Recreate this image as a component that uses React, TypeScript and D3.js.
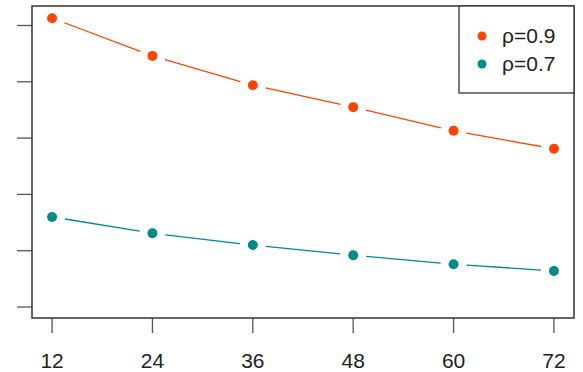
import React, { useEffect, useRef } from 'react';
import * as d3 from 'd3';

const months = [12, 24, 36, 48, 60, 72];
const rho09 = [5.13, 4.46, 3.94, 3.55, 3.13, 2.81];
const rho07 = [1.6, 1.31, 1.1, 0.92, 0.76, 0.64];
const yTicks = [0, 1, 2, 3, 4, 5];
const seriesNames = ['ρ=0.9', 'ρ=0.7'];
const seriesColors = ['#ff4500', '#008b8b'];

const App = () => {
  const svgRef = useRef<SVGSVGElement>(null);

  useEffect(() => {
    const svg = d3.select(svgRef.current);
    const width = 583;
    const height = 372;
    const box = { left: 32, right: 574, top: 6, bottom: 318 };
    const font = 'Liberation Sans, Arial, sans-serif';

    const x = d3.scaleLinear().domain([9.6, 74.4]).range([box.left, box.right]);
    const y = d3.scaleLinear().domain([-0.195, 5.346]).range([box.bottom, box.top]);

    svg.attr('width', width).attr('height', height);

    // y axis: ticks only, no labels
    svg
      .append('g')
      .selectAll('line')
      .data(yTicks)
      .enter()
      .append('line')
      .attr('x1', box.left - 15)
      .attr('x2', box.left)
      .attr('y1', (d) => y(d))
      .attr('y2', (d) => y(d))
      .attr('stroke', '#555')
      .attr('stroke-width', 1.3);

    // x axis
    const xa = svg.append('g');
    xa.selectAll('line')
      .data(months)
      .enter()
      .append('line')
      .attr('x1', (d) => x(d))
      .attr('x2', (d) => x(d))
      .attr('y1', box.bottom)
      .attr('y2', box.bottom + 15)
      .attr('stroke', '#555')
      .attr('stroke-width', 1.3);
    xa.selectAll('text')
      .data(months)
      .enter()
      .append('text')
      .attr('x', (d) => x(d))
      .attr('y', 368)
      .attr('text-anchor', 'middle')
      .attr('font-family', font)
      .attr('font-size', 21)
      .attr('fill', '#222')
      .text((d) => d);

    // series: segments with gaps around points (type "b")
    const gap = 13;
    [rho09, rho07].forEach((vals, i) => {
      const pts = months.map((m, j) => [x(m), y(vals[j])]);
      const g = svg.append('g');
      d3.pairs(pts).forEach(([a, b]) => {
        const dx = b[0] - a[0];
        const dy = b[1] - a[1];
        const len = Math.hypot(dx, dy);
        const ux = dx / len;
        const uy = dy / len;
        g.append('line')
          .attr('x1', a[0] + ux * gap)
          .attr('y1', a[1] + uy * gap)
          .attr('x2', b[0] - ux * gap)
          .attr('y2', b[1] - uy * gap)
          .attr('stroke', seriesColors[i])
          .attr('stroke-width', 1.3);
      });
      g.selectAll('circle')
        .data(pts)
        .enter()
        .append('circle')
        .attr('cx', (d) => d[0])
        .attr('cy', (d) => d[1])
        .attr('r', 5)
        .attr('fill', seriesColors[i]);
    });

    // plot frame
    svg
      .append('rect')
      .attr('x', box.left)
      .attr('y', box.top)
      .attr('width', box.right - box.left)
      .attr('height', box.bottom - box.top)
      .attr('fill', 'none')
      .attr('stroke', '#333')
      .attr('stroke-width', 1.5);

    // legend
    const lg = svg.append('g');
    lg.append('rect')
      .attr('x', 459)
      .attr('y', box.top)
      .attr('width', box.right - 459)
      .attr('height', 87)
      .attr('fill', 'white')
      .attr('stroke', '#333')
      .attr('stroke-width', 1.3);
    seriesNames.forEach((name, i) => {
      const cy = 36 + i * 28;
      lg.append('circle').attr('cx', 482).attr('cy', cy).attr('r', 4.5).attr('fill', seriesColors[i]);
      lg.append('text')
        .attr('x', 502)
        .attr('y', cy + 7)
        .attr('font-family', font)
        .attr('font-size', 21)
        .attr('fill', '#222')
        .text(name);
    });

    return () => {
      svg.selectAll('*').remove();
    };
  }, []);

  return (
    <div style={{ position: 'absolute', left: 0, top: 0 }}>
      <svg ref={svgRef} style={{ display: 'block' }}></svg>
    </div>
  );
};

export default App;
